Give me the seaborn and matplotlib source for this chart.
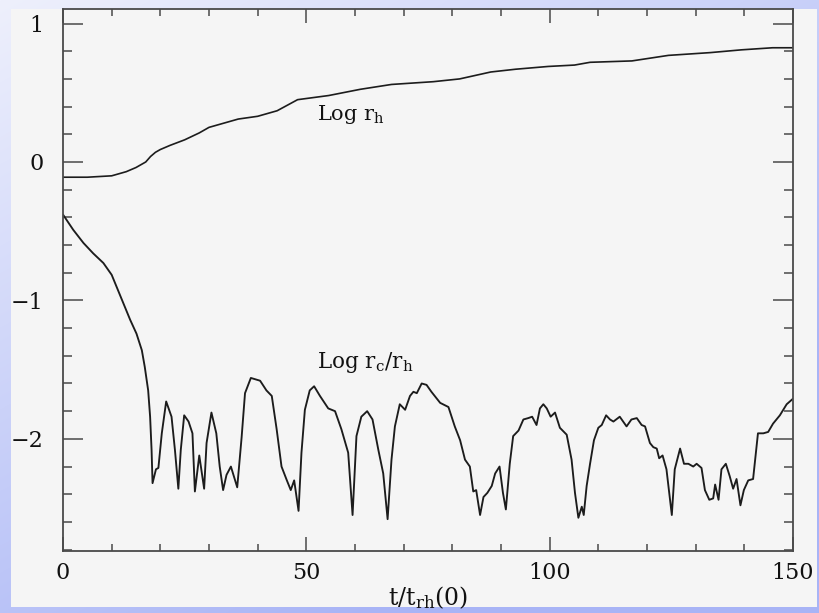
import numpy as np
import matplotlib
matplotlib.use("Agg")
import matplotlib.pyplot as plt
from matplotlib.patches import Rectangle
from matplotlib.ticker import MultipleLocator, FixedLocator
import seaborn as sns

# ---- data ----
t_rh = [0, 5, 10, 13, 15, 17, 18, 19, 20, 22, 25, 28, 30, 33, 36, 40, 44, 48.2,
        54.6, 61.1, 67.5, 76.1, 81.5, 87.9, 93, 99.7, 105.1, 108.3, 116.9, 124.4,
        133, 139.4, 145.8, 150]
log_rh = [-0.11, -0.11, -0.10, -0.07, -0.04, 0.0, 0.04, 0.07, 0.09, 0.12, 0.16,
          0.21, 0.25, 0.28, 0.31, 0.33, 0.37, 0.45, 0.48, 0.525, 0.56, 0.58, 0.60,
          0.65, 0.67, 0.69, 0.70, 0.72, 0.73, 0.77, 0.79, 0.81, 0.825, 0.825]

t_rc = [0, 2.1, 4.2, 6.2, 8.3, 10.0, 11.0, 12.4, 13.8, 15.1, 16.2, 16.8, 17.5, 17.9,
        18.2, 18.4, 19.1, 19.6, 20.3, 21.2, 22.3, 23.0, 23.7, 24.2, 24.9, 25.8, 26.6,
        27.1, 28.0, 29.0, 29.5, 30.5, 31.5, 32.2, 32.9, 33.6, 34.5, 35.8, 36.7, 37.4,
        38.6, 40.5, 41.8, 42.9, 43.9, 44.9, 46.0, 46.8, 47.5, 48.4, 49.0, 49.7, 50.7,
        51.6, 52.8, 54.5, 55.9, 57.2, 58.6, 59.5, 60.3, 61.3, 62.5, 63.6, 64.8, 65.8,
        66.7, 67.5, 68.2, 69.2, 70.3, 71.3, 72.0, 72.7, 73.7, 74.7, 75.7, 77.5, 79.2,
        80.5, 81.6, 82.6, 83.6, 84.3, 84.9, 85.7, 86.4, 87.2, 88.1, 88.8, 89.7, 90.4,
        91.0, 91.8, 92.5, 93.6, 94.6, 95.6, 96.4, 97.3, 98.0, 98.7, 99.4, 100.2, 101.1,
        102.1, 103.5, 104.5, 105.2, 105.9, 106.6, 107.0, 107.6, 108.3, 109.1, 110.0,
        110.7, 111.6, 112.4, 113.1, 114.4, 115.8, 116.8, 117.9, 118.9, 119.6, 120.6,
        121.3, 122.0, 122.5, 123.2, 124.0, 125.1, 125.7, 126.8, 127.6, 128.5, 129.5,
        130.2, 131.2, 131.9, 132.8, 133.6, 134.0, 134.7, 135.3, 136.2, 137.0, 137.7,
        138.4, 139.2, 139.9, 140.8, 141.8, 142.8, 143.9, 144.9, 145.9, 147.3, 148.7,
        150.0]
log_rc_rh = [-0.38, -0.49, -0.585, -0.66, -0.73, -0.815, -0.90, -1.02, -1.14, -1.24,
             -1.36, -1.48, -1.65, -1.84, -2.08, -2.32, -2.22, -2.21, -1.96, -1.73,
             -1.84, -2.08, -2.36, -2.08, -1.83, -1.875, -1.96, -2.38, -2.12, -2.36,
             -2.03, -1.81, -1.96, -2.20, -2.37, -2.26, -2.20, -2.35, -1.99, -1.67,
             -1.56, -1.58, -1.65, -1.69, -1.93, -2.20, -2.30, -2.37, -2.30, -2.52,
             -2.10, -1.79, -1.65, -1.62, -1.69, -1.78, -1.80, -1.93, -2.10, -2.55,
             -1.98, -1.84, -1.80, -1.86, -2.08, -2.25, -2.58, -2.15, -1.91, -1.75,
             -1.79, -1.69, -1.66, -1.67, -1.60, -1.61, -1.66, -1.74, -1.77, -1.91,
             -2.01, -2.15, -2.20, -2.38, -2.37, -2.55, -2.42, -2.39, -2.34, -2.25,
             -2.20, -2.39, -2.51, -2.18, -1.98, -1.94, -1.86, -1.85, -1.84, -1.90,
             -1.78, -1.75, -1.78, -1.84, -1.81, -1.92, -1.97, -2.15, -2.39, -2.57,
             -2.49, -2.55, -2.34, -2.18, -2.01, -1.92, -1.90, -1.83, -1.86, -1.875,
             -1.84, -1.91, -1.86, -1.85, -1.90, -1.91, -2.03, -2.06, -2.07, -2.14,
             -2.12, -2.22, -2.55, -2.22, -2.07, -2.18, -2.18, -2.20, -2.18, -2.21,
             -2.37, -2.44, -2.43, -2.33, -2.44, -2.22, -2.18, -2.27, -2.36, -2.29,
             -2.48, -2.37, -2.30, -2.29, -1.96, -1.96, -1.95, -1.89, -1.83, -1.75,
             -1.71]

x_major = [0, 50, 100, 150]
y_major = [-2, -1, 0, 1]
label_rh = r"Log r$_\mathrm{h}$"
label_rc = r"Log r$_\mathrm{c}$/r$_\mathrm{h}$"
x_label = r"t/t$_\mathrm{rh}$(0)"

# ---- styling ----
sns.set_theme(style="ticks")
plt.rcParams["font.family"] = ["DejaVu Serif", "DejaVu Sans"]
plt.rcParams["mathtext.fontset"] = "dejavuserif"

W, H = 819, 613
fig = plt.figure(figsize=(W / 100, H / 100), dpi=100)

# gradient frame + light panel (decoration)
bg = fig.add_axes([0, 0, 1, 1], zorder=-5)
yy, xx = np.mgrid[0:H, 0:W]
tt = np.clip(0.55 * xx / W + 0.75 * yy / H, 0, 1)[..., None]
light = np.array([238, 240, 252]) / 255
dark = np.array([168, 180, 246]) / 255
img = light * (1 - tt) + dark * tt
bg.imshow(img, extent=[0, 1, 0, 1], aspect="auto", origin="upper")
bg.add_patch(Rectangle((11 / W, 1 - 607 / H), (817 - 11) / W, (607 - 9) / H,
                       facecolor="#f5f5f5", edgecolor="none"))
bg.set_xlim(0, 1)
bg.set_ylim(0, 1)
bg.axis("off")

ax = fig.add_axes([63 / W, 1 - 551 / H, (793 - 63) / W, (551 - 9) / H])
ax.set_facecolor("#f5f5f5")

line_col = "#1c1c1c"
sns.lineplot(x=t_rh, y=log_rh, ax=ax, color=line_col, lw=1.2)
sns.lineplot(x=t_rc, y=log_rc_rh, ax=ax, color=line_col, lw=1.35)

ax.set_xlim(0, 150)
ax.set_ylim(-2.81, 1.105)

ax.xaxis.set_major_locator(FixedLocator(x_major))
ax.xaxis.set_minor_locator(MultipleLocator(10))
ax.yaxis.set_major_locator(FixedLocator(y_major))
ax.yaxis.set_minor_locator(MultipleLocator(0.2))

spine_col = "#4a4a4a"
for s in ax.spines.values():
    s.set_color(spine_col)
    s.set_linewidth(1.3)

ax.tick_params(axis="both", which="both", direction="in", top=True, right=True,
               color=spine_col, width=1.1, labelcolor="#111111", labelsize=16)
ax.tick_params(axis="x", which="major", length=10, pad=8)
ax.tick_params(axis="x", which="minor", length=5)
ax.tick_params(axis="y", which="major", length=14.5, pad=14)
ax.tick_params(axis="y", which="minor", length=6.5)

ax.set_xlabel(x_label, fontsize=17, color="#111111", labelpad=0)
ax.set_ylabel("")

ax.text(52.2, 0.30, label_rh, fontsize=15, ha="left", va="baseline", color="#111111")
ax.text(52.2, -1.487, label_rc, fontsize=15.5, ha="left", va="baseline", color="#111111")

fig.savefig("out.png", dpi=100)
